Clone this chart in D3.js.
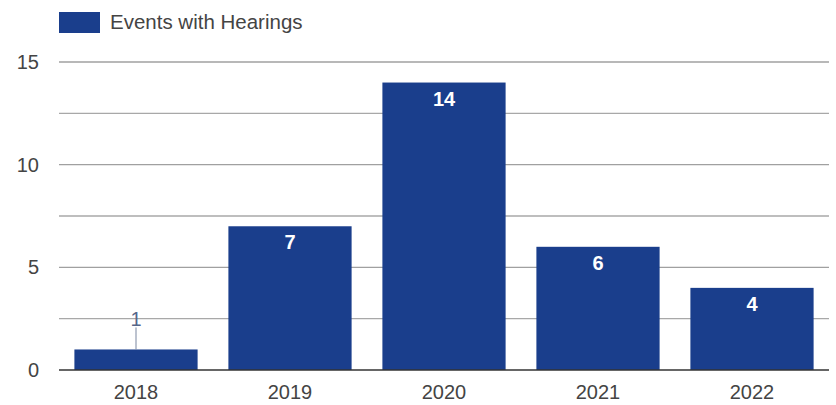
<!DOCTYPE html>
<html>
<head>
<meta charset="utf-8">
<script src="https://cdn.jsdelivr.net/npm/d3@7"></script>
<style>
  html, body { margin: 0; padding: 0; background: #fff; }
  svg { display: block; font-family: Arial, "Liberation Sans", sans-serif; }
</style>
</head>
<body>
<svg id="chart" width="836" height="405"></svg>
<script>
// Yearly counts of events that had hearings
const years = ["2018", "2019", "2020", "2021", "2022"];
const counts = [1, 7, 14, 6, 4];
const seriesName = "Events with Hearings";
const yTicks = [0, 5, 10, 15];
const yMinorTicks = [2.5, 7.5, 12.5];

const svg = d3.select("#chart");
const margin = { left: 59, right: 7, top: 62, bottom: 35 };
const W = 836, H = 405;
const barColor = "#1a3e8c";
const fontFamily = "Arial, 'Liberation Sans', sans-serif";

const x = d3.scaleBand()
  .domain(years)
  .range([margin.left, W - margin.right])
  .paddingInner(0.2)
  .paddingOuter(0.1);

const y = d3.scaleLinear()
  .domain([0, 15])
  .range([H - margin.bottom, margin.top]);

// gridlines
const grid = svg.append("g");
grid.selectAll("line.minor")
  .data(yMinorTicks)
  .join("line")
  .attr("x1", margin.left).attr("x2", W - margin.right)
  .attr("y1", d => y(d)).attr("y2", d => y(d))
  .attr("stroke", "#a8a8a8").attr("stroke-width", 1.3);
grid.selectAll("line.major")
  .data(yTicks.filter(d => d > 0))
  .join("line")
  .attr("x1", margin.left).attr("x2", W - margin.right)
  .attr("y1", d => y(d)).attr("y2", d => y(d))
  .attr("stroke", "#a0a0a0").attr("stroke-width", 1.3);

// y axis labels
const yAxis = svg.append("g")
  .attr("transform", `translate(${margin.left - 20},0)`)
  .call(d3.axisLeft(y).tickValues(yTicks).tickSize(0).tickPadding(0));
yAxis.select(".domain").remove();
yAxis.selectAll("text")
  .attr("font-size", 20)
  .attr("fill", "#444")
  .attr("font-family", fontFamily);

// bars
const data = years.map((yr, i) => ({ yr, v: counts[i] }));
svg.append("g").selectAll("rect")
  .data(data)
  .join("rect")
  .attr("x", d => x(d.yr))
  .attr("width", x.bandwidth())
  .attr("y", d => y(d.v))
  .attr("height", d => y(0) - y(d.v))
  .attr("fill", barColor);

// baseline
svg.append("line")
  .attr("x1", margin.left).attr("x2", W - margin.right)
  .attr("y1", y(0)).attr("y2", y(0))
  .attr("stroke", "#333").attr("stroke-width", 1.5);

// x axis labels
const xAxis = svg.append("g")
  .attr("transform", `translate(0,${y(0)})`)
  .call(d3.axisBottom(x).tickSize(0).tickPadding(15));
xAxis.select(".domain").remove();
xAxis.selectAll("text")
  .attr("font-size", 20)
  .attr("fill", "#444")
  .attr("font-family", fontFamily);

// value labels: inside the bar when it fits, otherwise above with a leader line
const inside = data.filter(d => y(0) - y(d.v) > 30);
const outside = data.filter(d => y(0) - y(d.v) <= 30);

svg.append("g").selectAll("text")
  .data(inside)
  .join("text")
  .attr("x", d => x(d.yr) + x.bandwidth() / 2)
  .attr("y", d => y(d.v) + 16)
  .attr("dy", "0.35em")
  .attr("text-anchor", "middle")
  .attr("font-size", 20)
  .attr("font-weight", "bold")
  .attr("fill", "#fff")
  .text(d => d.v);

const out = svg.append("g").selectAll("g")
  .data(outside)
  .join("g");
out.append("line")
  .attr("x1", d => x(d.yr) + x.bandwidth() / 2)
  .attr("x2", d => x(d.yr) + x.bandwidth() / 2)
  .attr("y1", d => y(d.v) - 22)
  .attr("y2", d => y(d.v))
  .attr("stroke", "#7b87a0").attr("stroke-width", 1);
out.append("text")
  .attr("x", d => x(d.yr) + x.bandwidth() / 2)
  .attr("y", d => y(d.v) - 30)
  .attr("dy", "0.35em")
  .attr("text-anchor", "middle")
  .attr("font-size", 20)
  .attr("fill", "#55668a")
  .text(d => d.v);

// legend
const legend = svg.append("g");
legend.append("rect")
  .attr("x", 59).attr("y", 12)
  .attr("width", 41).attr("height", 21)
  .attr("fill", barColor);
legend.append("text")
  .attr("x", 110).attr("y", 22)
  .attr("dy", "0.35em")
  .attr("font-size", 20.5)
  .attr("fill", "#444")
  .attr("font-family", fontFamily)
  .text(seriesName);
</script>
</body>
</html>
